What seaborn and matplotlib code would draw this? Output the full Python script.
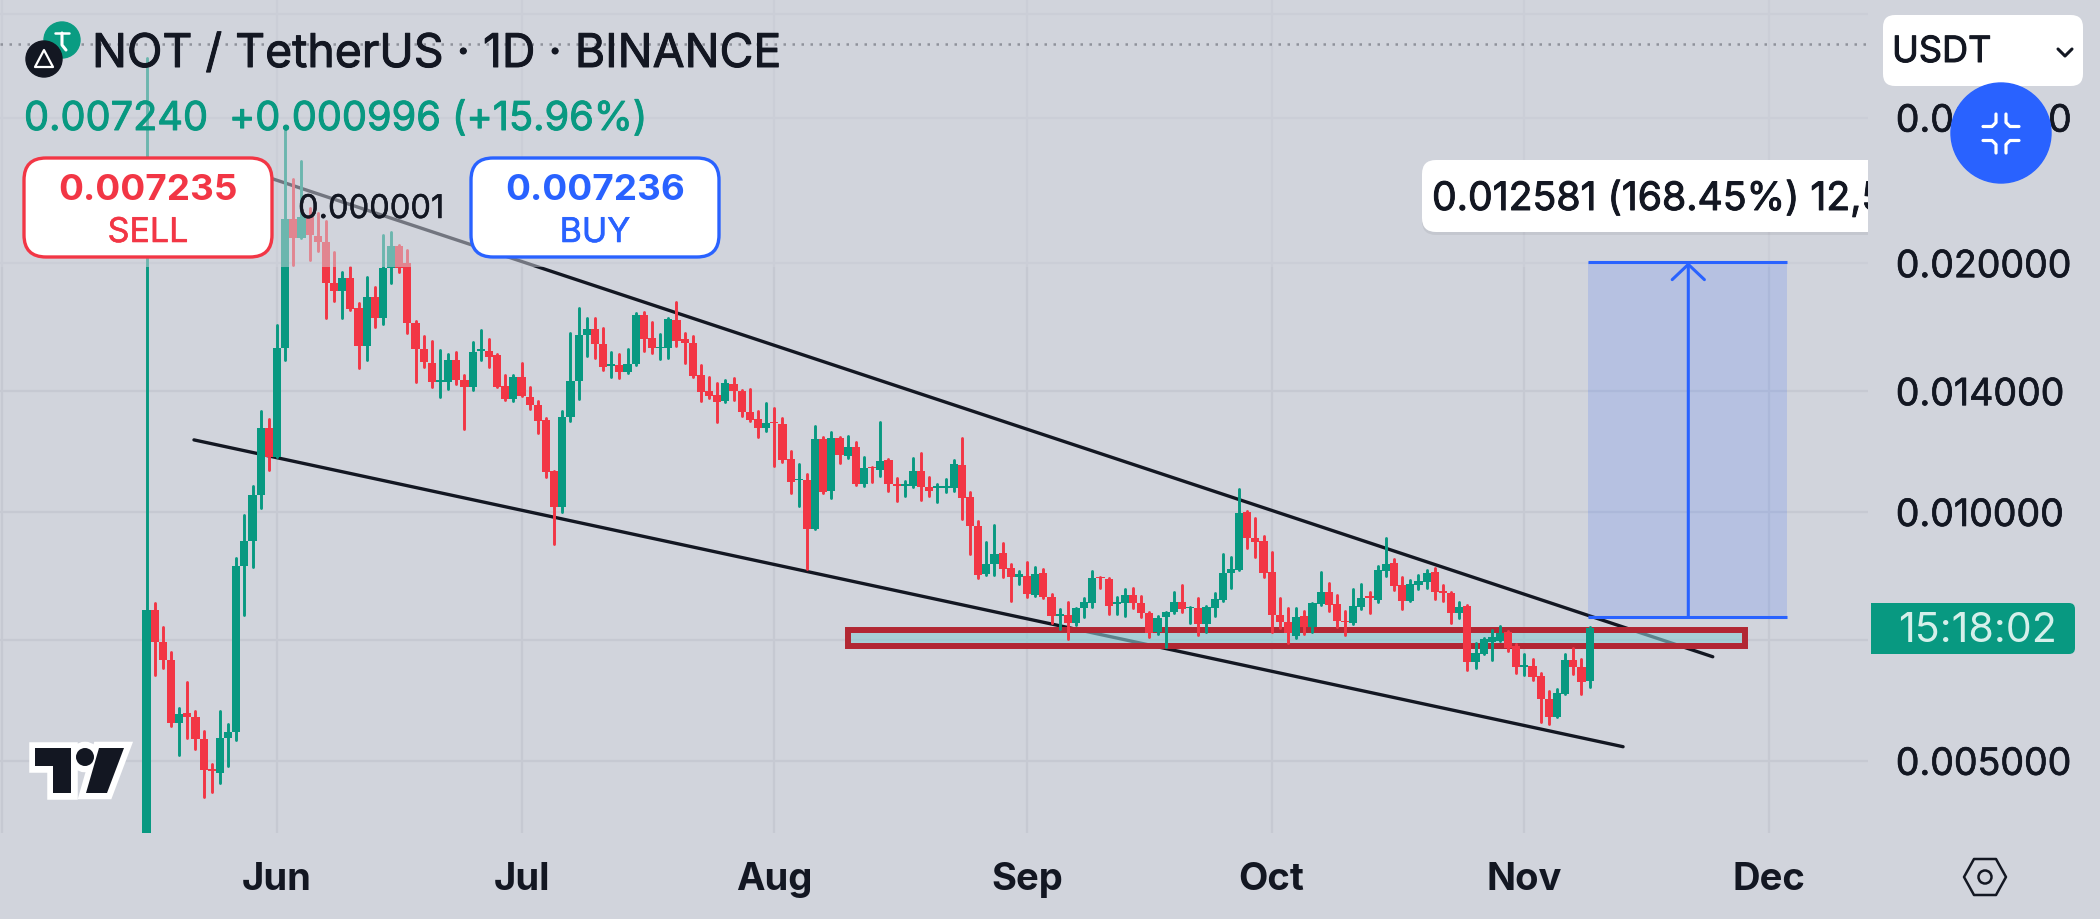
import pandas as pd
import seaborn as sns
import matplotlib.pyplot as plt
import matplotlib.patheffects as pe
from matplotlib.patches import Rectangle, FancyBboxPatch, Circle, Polygon
from matplotlib.ticker import NullLocator, FixedLocator, FixedFormatter

# candles, prices in 1e-6 USDT
opens = [3900, 7615, 6966, 6625, 5560, 5717, 5653, 5317, 4890, 4837,
         5332, 5422, 8608, 9227, 10489, 12640, 11660, 15792, 22618, 21454,
         22745, 21575, 21216, 18931, 18511, 19193, 17654, 15883, 18205, 17170,
         19733, 20980, 20013, 16933, 15750, 15149, 14367, 14367, 15275, 14447,
         14168, 15663, 15663, 15490, 14208, 13703, 14570, 13780, 13477, 12924,
         11213, 10143, 13032, 14407, 16377, 16651, 15971, 15023, 15065, 14773,
         15107, 17315, 16240, 15792, 15792, 17074, 16195, 16015, 14651, 14011,
         13857, 13627, 14288, 14011, 13216, 12960, 12640, 12853, 12782, 11594,
         10936, 10936, 9541, 12258, 10606, 12292, 11692, 11986, 10816, 11339,
         11244, 11562, 10816, 10756, 10756, 11213, 10726, 10696, 10696, 10696,
         11403, 10430, 9623, 8418, 8657, 8925, 8560, 8348, 8372, 7940,
         8442, 7896, 7489, 7510, 7345, 7658, 7766, 8348, 8301, 7745,
         7766, 7940, 7766, 7551, 7165, 7468, 7573, 7787, 7658, 7658,
         7325, 7658, 7830, 8442, 8512, 10003, 9305, 9227, 8465, 7510,
         7365, 7084, 7489, 7264, 7745, 8006, 7745, 7385, 7345, 7680,
         7918, 7830, 8488, 8681, 8165, 7809, 8165, 8232, 8465, 8028,
         7983, 7551, 7702, 6588, 6737, 6966, 6985, 7163, 6890, 6497,
         6516, 6337, 5944, 5653, 6026, 6625, 6497, 6244]
highs = [35419, 7766, 7263, 6775, 5796, 6232, 5748, 5437, 4960, 5748,
         5544, 8801, 9921, 10752, 13252, 12960, 16837, 28981, 25285, 26583,
         23323, 22999, 22493, 20635, 19517, 19791, 17899, 19247, 18718, 21634,
         21816, 21038, 20749, 17027, 16331, 16105, 15706, 15532, 15620, 14651,
         16060, 16605, 16195, 15532, 14651, 14651, 15149, 14168, 13627, 12996,
         11213, 13252, 16468, 17653, 17170, 17170, 16698, 15620, 15532, 15750,
         17411, 17460, 16980, 16422, 17170, 17953, 16468, 16331, 15065, 14570,
         14327, 14447, 14529, 14050, 14090, 13252, 13552, 13364, 12996, 11855,
         11435, 11121, 12711, 12327, 12500, 12327, 12361, 12156, 11660, 11339,
         12853, 11594, 10998, 10906, 11627, 11790, 11028, 10816, 10967, 11562,
         12292, 10577, 9756, 9201, 9650, 9176, 8657, 8488, 8704, 8584,
         8536, 7961, 7636, 7787, 7658, 7874, 8488, 8348, 8325, 7896,
         8073, 8096, 7918, 7573, 7489, 7573, 8006, 8165, 7680, 7874,
         7702, 7983, 8900, 8826, 10665, 10031, 9838, 9357, 8950, 7874,
         7658, 7658, 7594, 7766, 8465, 8209, 7940, 7594, 8073, 8186,
         8006, 8608, 9305, 8777, 8348, 8278, 8395, 8512, 8560, 8165,
         8006, 7787, 7723, 6947, 7045, 7202, 7284, 7183, 6928, 6737,
         6643, 6389, 6077, 6111, 6737, 6851, 6643, 7266]
lows = [3900, 6354, 6479, 5514, 5086, 5332, 5171, 4524, 4588, 4703,
        4932, 5302, 7510, 8584, 10116, 11244, 11660, 15275, 19900, 21454,
        20179, 20691, 17170, 18002, 17170, 17556, 14938, 15275, 16745, 16886,
        18931, 19517, 16468, 14367, 14981, 14168, 13780, 14090, 14288, 12604,
        14050, 15275, 14981, 14168, 13665, 13627, 13818, 13327, 12465, 11028,
        9151, 10003, 12888, 13703, 15447, 15361, 14855, 14570, 14529, 14732,
        15065, 15663, 15577, 15318, 15361, 15883, 15149, 14570, 13627, 13742,
        12853, 13590, 13665, 13070, 12888, 12327, 12535, 11366, 11498, 10547,
        10172, 8536, 9541, 10547, 10401, 11466, 11627, 10786, 10756, 10876,
        11059, 10606, 10314, 10459, 10726, 10343, 10459, 10286, 10577, 10606,
        9810, 8900, 8325, 8395, 8395, 8348, 7809, 8186, 7896, 7918,
        7874, 7345, 7222, 7025, 7304, 7468, 7680, 8096, 7530, 7530,
        7489, 7658, 7468, 7064, 7125, 6870, 7551, 7573, 7345, 7103,
        7163, 7489, 7809, 8096, 8512, 9050, 8826, 8348, 7163, 7243,
        6947, 7045, 7125, 7163, 7723, 7594, 7264, 7103, 7325, 7636,
        7551, 7787, 8372, 8051, 7636, 7809, 8073, 8096, 7852, 7809,
        7345, 7447, 6443, 6479, 6737, 6625, 6985, 6794, 6389, 6354,
        6266, 5575, 5544, 5653, 6026, 6372, 6026, 6145]
closes = [7615, 6966, 6625, 5560, 5701, 5653, 5317, 4877, 4864, 5332,
          5422, 8608, 9227, 10489, 12640, 11660, 15792, 22618, 21454, 22745,
          21634, 21216, 18931, 18511, 19193, 17605, 15883, 18205, 17170, 19733,
          20980, 19733, 16933, 15750, 15191, 14367, 14447, 15275, 14447, 14168,
          15620, 15750, 15404, 14168, 13703, 14570, 13818, 13477, 12888, 11182,
          10143, 13032, 14407, 16377, 16651, 15971, 14981, 15107, 14773, 15107,
          17315, 16195, 15792, 15835, 17122, 16105, 16015, 14610, 13973, 13818,
          13590, 14327, 14011, 13216, 12924, 12640, 12817, 12817, 11562, 10876,
          10967, 9541, 12258, 10577, 12292, 11725, 11986, 10816, 11307, 11307,
          11530, 10816, 10756, 10816, 11213, 10726, 10606, 10756, 10756, 11435,
          10401, 9623, 8395, 8657, 8900, 8536, 8348, 8418, 7961, 8418,
          7896, 7489, 7530, 7345, 7658, 7787, 8325, 8325, 7702, 7787,
          7940, 7766, 7551, 7145, 7447, 7573, 7787, 7636, 7680, 7325,
          7680, 7852, 8442, 8536, 9973, 9305, 9201, 8442, 7510, 7365,
          7145, 7468, 7264, 7766, 8006, 7723, 7385, 7365, 7702, 7874,
          7874, 8512, 8657, 8141, 7809, 8186, 8255, 8442, 8006, 7983,
          7551, 7680, 6588, 6756, 7025, 7064, 7145, 6851, 6497, 6534,
          6319, 5944, 5653, 6043, 6625, 6497, 6232, 7240]

first_day = '2024-05-16'
month_starts = ['2024-06-01', '2024-07-01', '2024-08-01', '2024-09-01', '2024-10-01', '2024-11-01', '2024-12-01']
month_labels = ['Jun', 'Jul', 'Aug', 'Sep', 'Oct', 'Nov', 'Dec']
price_ticks = [0.04, 0.03, 0.02, 0.014, 0.01, 0.007, 0.005]
price_labels = ['', '0.030000', '0.020000', '0.014000', '0.010000', '', '0.005000']

# drawings: day offsets from Jun 1
upper_days = [-0.85, 176.1]
upper_prices = [0.025356, 0.006681]
lower_days = [-10.18, 165.1]
lower_prices = [0.012224, 0.005200]
zone_days = [70.0, 180.0]
zone_prices = [0.006888, 0.007202]
target_days = [160.8, 185.2]
target_mid = 173.1
target_prices = [0.007469, 0.020050]

BG = '#D1D4DC'
GRID = '#C6C9D2'
GREEN = '#089981'
RED = '#F23645'
BLUE = '#2962FF'
INK = '#131722'
FONT = 'Inter'

sns.set_theme(style='darkgrid', rc={'axes.facecolor': BG, 'figure.facecolor': BG, 'grid.color': GRID, 'grid.linewidth': 1.6})
plt.rcParams['font.family'] = [FONT, 'DejaVu Sans']

dates = pd.date_range(first_day, periods=len(opens))
jun1 = pd.Timestamp('2024-06-01')
df = pd.DataFrame({'day': (dates - jun1).days, 'open': opens, 'high': highs, 'low': lows, 'close': closes})
for c in ['open', 'high', 'low', 'close']:
    df[c] = df[c] / 1e6
df['dir'] = ['up' if c >= o else 'down' for o, c in zip(df['open'], df['close'])]

# wicks as a long table so seaborn can draw one line per candle
wicks = pd.concat([df[['day', 'dir', 'low']].rename(columns={'low': 'price'}),
                   df[['day', 'dir', 'high']].rename(columns={'high': 'price'})])

fig = plt.figure(figsize=(21, 9.22), dpi=100)
ax = fig.add_axes([0, (922 - 833) / 922, 1868 / 2100, 833 / 922])
ax.set_yscale('log')
ax.set_xlim(-33.97, 195.14)
ax.set_ylim(0.004089, 0.04163)

for d, p in [(upper_days, upper_prices), (lower_days, lower_prices)]:
    sns.lineplot(x=d, y=p, color='#131722', lw=2.4, ax=ax, zorder=2, legend=False)

ax.add_patch(Rectangle((zone_days[0], zone_prices[0]), zone_days[1] - zone_days[0], zone_prices[1] - zone_prices[0],
                       facecolor=(141 / 255, 204 / 255, 210 / 255, 0.6), edgecolor='#B22733', lw=4.3, zorder=3))

sns.lineplot(data=wicks, x='day', y='price', units='day', hue='dir', estimator=None, sort=False,
             palette={'up': GREEN, 'down': RED}, lw=2.1, ax=ax, zorder=4, legend=False)
tops = df[['open', 'close']].max(axis=1)
bottoms = df[['open', 'close']].min(axis=1)
ax.bar(df['day'], tops - bottoms, bottom=bottoms, width=1.0, linewidth=0,
       color=[GREEN if d == 'up' else RED for d in df['dir']], zorder=4)

# everything above the 0.02 line is washed out in the original screenshot
ax.axhspan(0.01978, 0.04163, color=BG, alpha=0.5, lw=0, zorder=5)

ax.fill_between(target_days, target_prices[0], target_prices[1], color=BLUE, alpha=0.16, lw=0, zorder=6)
ax.plot(target_days, [target_prices[0]] * 2, color=BLUE, lw=2.2, zorder=6, solid_capstyle='butt')
ax.plot(target_days, [target_prices[1]] * 2, color=BLUE, lw=2.2, zorder=6, solid_capstyle='butt')
ax.annotate('', xy=(target_mid, target_prices[1]), xytext=(target_mid, target_prices[0]), zorder=6,
            arrowprops=dict(arrowstyle='->,head_length=0.55,head_width=0.58', mutation_scale=20,
                            color=BLUE, lw=2.2, shrinkA=0, shrinkB=0))

month_days = [(pd.Timestamp(m) - jun1).days for m in month_starts]
ax.xaxis.set_major_locator(FixedLocator(month_days))
ax.xaxis.set_major_formatter(FixedFormatter(month_labels))
ax.axvline(-33.7, color=GRID, lw=1.6, zorder=1)
ax.yaxis.tick_right()
ax.yaxis.set_major_locator(FixedLocator(price_ticks))
ax.yaxis.set_major_formatter(FixedFormatter(price_labels))
ax.yaxis.set_minor_locator(NullLocator())
ax.tick_params(axis='x', length=0, pad=21, labelsize=27.5, labelcolor=INK)
ax.tick_params(axis='y', length=0, pad=20, labelsize=27, labelcolor=INK)
for t in ax.get_xticklabels():
    t.set_fontweight('bold')
for t in ax.get_yticklabels():
    t.set_path_effects([pe.withStroke(linewidth=0.5, foreground=INK)])
ax.set_xlabel('')
ax.set_ylabel('')
for s in ax.spines.values():
    s.set_visible(False)

# overlay in screen pixels for the app's UI elements
ov = fig.add_axes([0, 0, 1, 1], zorder=10)
ov.set_xlim(0, 2100)
ov.set_ylim(922, 0)
ov.axis('off')


def box(x0, y0, x1, y1, r, fc, ec='none', lw=0, **kw):
    p = FancyBboxPatch((x0 + r, y0 + r), x1 - x0 - 2 * r, y1 - y0 - 2 * r, boxstyle='round,pad=%s,rounding_size=%s' % (r, r),
                       facecolor=fc, edgecolor=ec, lw=lw, **kw)
    ov.add_patch(p)
    return p


def label(x, y, s, size, color, ha='left', weight='normal', heavy=0.7):
    # Inter only comes in a few weights here, a thin stroke fakes the medium one
    t = ov.text(x, y, s, fontsize=size, color=color, ha=ha, va='baseline', fontweight=weight)
    if heavy:
        t.set_path_effects([pe.withStroke(linewidth=heavy, foreground=color)])
    return t


ov.plot([0, 1868], [44, 44], color='#8F929B', lw=1.8, ls=(0, (1, 2.6)), zorder=1)

# header
ov.add_patch(Circle((62, 40), 18, color='#0A9C82', zorder=2))
ov.plot([55, 69], [33, 33], color='white', lw=1.8, zorder=2)
ov.plot([62, 62, 66], [33, 45, 50], color='white', lw=2.2, zorder=2)
ov.add_patch(Circle((44, 59), 18, color='#131722', zorder=3))
ov.add_patch(Polygon([[44, 50], [35, 67], [53, 67]], closed=True, fill=False, ec='white', lw=1.6, joinstyle='round', zorder=4))
label(92, 67, 'NOT / TetherUS · 1D · BINANCE', 33.4, INK)
label(24, 130, '0.007240', 28.6, GREEN)
label(229, 130, '+0.000996 (+15.96%)', 28.6, GREEN)

# sell / buy
box(24, 158, 272, 257, 22, 'white', RED, 2.4)
label(148, 200, '0.007235', 26.5, RED, ha='center', weight='bold', heavy=0)
label(148, 242, 'SELL', 24.5, RED, ha='center', heavy=0.4)
box(471, 158, 719, 257, 22, 'white', BLUE, 2.4)
label(595, 200, '0.007236', 26.5, BLUE, ha='center', weight='bold', heavy=0)
label(595, 242, 'BUY', 24.5, BLUE, ha='center', heavy=0.4)
label(298, 218, '0.000001', 23.5, INK, heavy=0.3)

# measure tooltip, cut off by the price scale
clip = Rectangle((0, 0), 1868, 922, transform=ov.transData)
shadow = box(1422, 163, 1900, 235, 14, 'black', alpha=0.06)
shadow.set_clip_path(clip)
tip = box(1422, 160, 1900, 232, 14, 'white')
tip.set_clip_path(clip)
tip_text = label(1432, 210, '0.012581 (168.45%) 12,581', 28.2, INK)
tip_text.set_clip_on(True)
tip_text.set_clip_path(clip)

# right hand controls
box(1883, 15, 2083, 86, 12, 'white')
label(1892, 62, 'USDT', 26, INK)
ov.plot([2058, 2065, 2072], [49, 56, 49], color=INK, lw=2.2)
ov.add_patch(Circle((2001, 133), 50, color=BLUE, zorder=3))
for sx in (-1, 1):
    for sy in (-1, 1):
        ov.plot([2001 + sx * 5, 2001 + sx * 5, 2001 + sx * 9, 2001 + sx * 18],
                [133.5 + sy * 19.5, 133.5 + sy * 11, 133.5 + sy * 7, 133.5 + sy * 7],
                color='white', lw=2.3, zorder=4, solid_joinstyle='round')

ov.add_patch(FancyBboxPatch((1871, 603), 198, 51, boxstyle='square,pad=0', facecolor=GREEN, lw=0))
box(2055, 603, 2075, 654, 6, GREEN)
label(1898, 642, '15:18:02', 29.5, '#D5EFEA', heavy=0)

ov.add_patch(Polygon([[1964, 877], [1974, 859], [1996, 859], [2006, 877], [1996, 895], [1974, 895]],
                     closed=True, fill=False, ec=INK, lw=1.8, joinstyle='round'))
ov.add_patch(Circle((1985, 877), 6.5, fill=False, ec=INK, lw=1.8))

# tradingview logo
logo = [Polygon([[35, 748], [71, 748], [71, 793], [53, 793], [53, 766], [35, 766]], closed=True),
        Circle((85, 757), 9),
        Polygon([[99, 748], [124, 748], [107, 793], [86, 793]], closed=True)]
for p in logo:
    p.set(facecolor='white', edgecolor='white', lw=9, joinstyle='miter')
    ov.add_patch(p)
logo2 = [Polygon([[35, 748], [71, 748], [71, 793], [53, 793], [53, 766], [35, 766]], closed=True),
         Circle((85, 757), 9),
         Polygon([[99, 748], [124, 748], [107, 793], [86, 793]], closed=True)]
for p in logo2:
    p.set(facecolor=INK, edgecolor='none')
    ov.add_patch(p)

# white edge at the very bottom of the screenshot
ov.add_patch(Rectangle((0, 919), 2100, 3, facecolor='white', lw=0))

fig.savefig('out.png', dpi=100)
